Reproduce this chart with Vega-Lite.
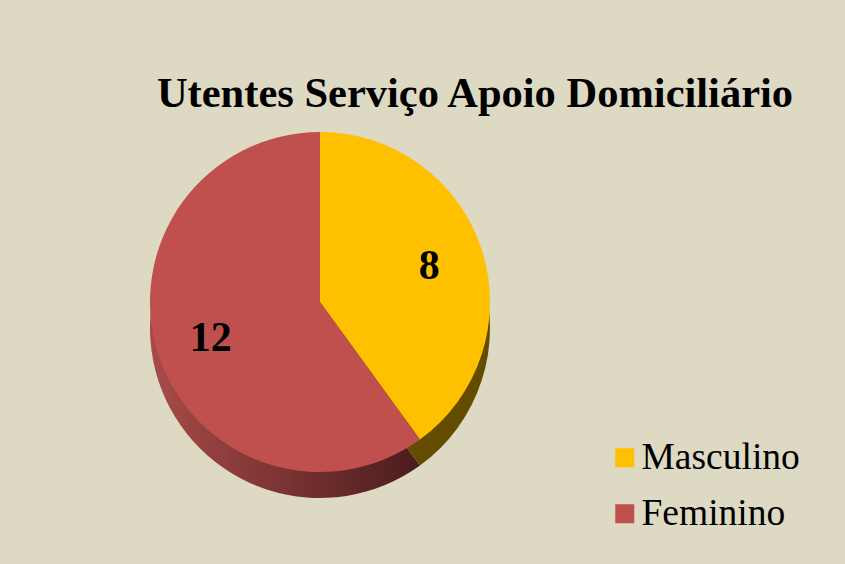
{
  "$schema": "https://vega.github.io/schema/vega-lite/v6.json",
  "width": 620,
  "height": 524,
  "autosize": {"type": "none"},
  "padding": {"left": 10, "top": 40, "right": 215, "bottom": 0},
  "background": "#DDD9C3",
  "config": {"view": {"stroke": null}},
  "title": {
    "text": "Utentes Serviço Apoio Domiciliário",
    "font": "Liberation Serif",
    "fontSize": 42.5,
    "fontWeight": "bold",
    "color": "#000000",
    "anchor": "middle",
    "baseline": "alphabetic",
    "offset": -109,
    "dx": 155
  },
  "data": {
    "values": [
      {"genero": "Masculino", "valor": 8, "ordem": 1},
      {"genero": "Feminino", "valor": 12, "ordem": 2}
    ]
  },
  "layer": [
    {
      "transform": [
        {"stack": "valor", "groupby": [], "sort": [{"field": "ordem", "order": "ascending"}], "as": ["v0", "v1"]},
        {"filter": "datum.genero === 'Feminino'"}
      ],
      "mark": {
        "type": "arc",
        "outerRadius": 170,
        "yOffset": 26,
        "fill": {
          "gradient": "linear", "x1": 0, "y1": 0, "x2": 1, "y2": 0,
          "stops": [{"offset": 0, "color": "#A84B48"}, {"offset": 1, "color": "#4B1C1D"}]
        }
      },
      "encoding": {
        "theta": {"field": "v0", "type": "quantitative"},
        "theta2": {"field": "v1"}
      }
    },
    {
      "transform": [
        {"stack": "valor", "groupby": [], "sort": [{"field": "ordem", "order": "ascending"}], "as": ["v0", "v1"]},
        {"filter": "datum.genero === 'Masculino'"}
      ],
      "mark": {"type": "arc", "outerRadius": 170, "yOffset": 26, "fill": "#634C00"},
      "encoding": {
        "theta": {"field": "v0", "type": "quantitative"},
        "theta2": {"field": "v1"}
      }
    },
    {
      "transform": [
        {"stack": "valor", "groupby": [], "sort": [{"field": "ordem", "order": "ascending"}], "as": ["v0", "v1"]}
      ],
      "mark": {"type": "arc", "outerRadius": 170},
      "encoding": {
        "theta": {"field": "v0", "type": "quantitative"},
        "theta2": {"field": "v1"},
        "color": {
          "field": "genero",
          "type": "nominal",
          "scale": {"domain": ["Masculino", "Feminino"], "range": ["#FFC000", "#C0504D"]},
          "legend": {
            "title": null,
            "orient": "none",
            "legendX": 596,
            "legendY": 399,
            "padding": 0,
            "symbolType": "square",
            "symbolSize": 361,
            "symbolStrokeWidth": 0,
            "symbolOffset": 0,
            "labelFont": "Liberation Serif",
            "labelFontSize": 37.5,
            "labelColor": "#000000",
            "labelOffset": -2,
            "rowPadding": 17,
            "labelLimit": 0
          }
        }
      }
    },
    {
      "mark": {"type": "text", "radius": 115, "font": "Liberation Serif", "fontSize": 42, "fontWeight": "bold", "color": "#000000", "align": "center", "baseline": "middle"},
      "encoding": {
        "theta": {"field": "valor", "type": "quantitative", "stack": true},
        "order": {"field": "ordem"},
        "text": {"field": "valor", "type": "quantitative"}
      }
    }
  ]
}
